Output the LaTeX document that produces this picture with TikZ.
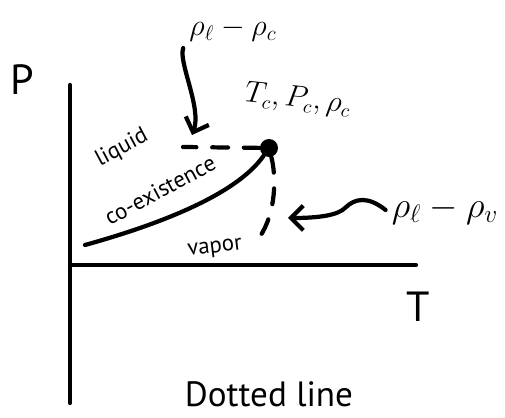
\documentclass[tikz,border=0pt]{standalone}
\usepackage{amsmath}
\usepackage{fontspec}
\setmainfont{PT Sans}
\usetikzlibrary{arrows.meta}
\tikzset{
    ink/.style={line width=2.4pt, line cap=round, line join=round},
    dashink/.style={ink, dash pattern=on 9pt off 9pt},
    handarrow/.style={ink, -{Straight Barb[length=7pt,width=14pt,line width=2.4pt]}},
    word/.style={inner sep=0pt, font=\fontsize{13}{15}\selectfont},
    big/.style={inner sep=1pt, font=\fontsize{24}{28}\selectfont},
}
\newcommand{\ptaxes}{
    \coordinate (ytop) at (70,85);
    \coordinate (ybot) at (70,403);
    \coordinate (orig) at (70,265);
    \coordinate (xend) at (416,265);
    \draw[ink] (ytop) -- (ybot);
    \draw[ink] (orig) -- (xend);
    \node[big] (pLbl) at (22,80) {P};
    \node[big] (tLbl) at (418,307) {T};
}

\begin{document}
\begin{tikzpicture}[x=0.02cm,y=-0.02cm]
    \useasboundingbox (0,0) rectangle (505,418);
        \ptaxes
        % critical point and the lines that meet there
        \node[circle,fill,inner sep=0pt,minimum size=0.36cm] (crit) at (269,148) {};
        \coordinate (coexStart) at (85,245);
        \coordinate (liqEnd) at (183,147);
        \coordinate (vapEnd) at (259,238);
        \draw[ink] (coexStart) .. controls (150,227) and (235,197) .. (crit);
        \draw[dashink] (crit) -- (liqEnd);
        \draw[dashink] (crit) .. controls (276,175) and (277,212) .. (vapEnd);
        \node[word,rotate=28] (liqLbl) at (122,148) {liquid};
        \node[word,rotate=28] (coexLbl) at (160,190) {co-existence};
        \node[word,rotate=7] (vapLbl) at (215,249) {vapor};
        \node[font=\fontsize{16}{18}\selectfont,rotate=-6] (critLbl) at (298,100) {$T_c, P_c, \rho_c$};
        % the two differences
        \node[font=\fontsize{17}{20}\selectfont] (lcLbl) at (233,30) {$\rho_\ell-\rho_c$};
        \node[font=\fontsize{20}{24}\selectfont] (lvLbl) at (445,210) {$\rho_\ell-\rho_v$};
        \coordinate (lcTip) at (192,135);
        \coordinate (lvTip) at (288,218);
        \draw[handarrow] (lcLbl.south west) .. controls (178,62) and (202,108) .. (lcTip);
        \draw[handarrow] (lvLbl.west) .. controls (368,196) and (355,198) .. (345,208)
            .. controls (338,215) and (320,218) .. (lvTip);
        \node[font=\fontsize{20}{24}\selectfont] (noteLbl) at (269,394) {Dotted line};
\end{tikzpicture}
\end{document}
